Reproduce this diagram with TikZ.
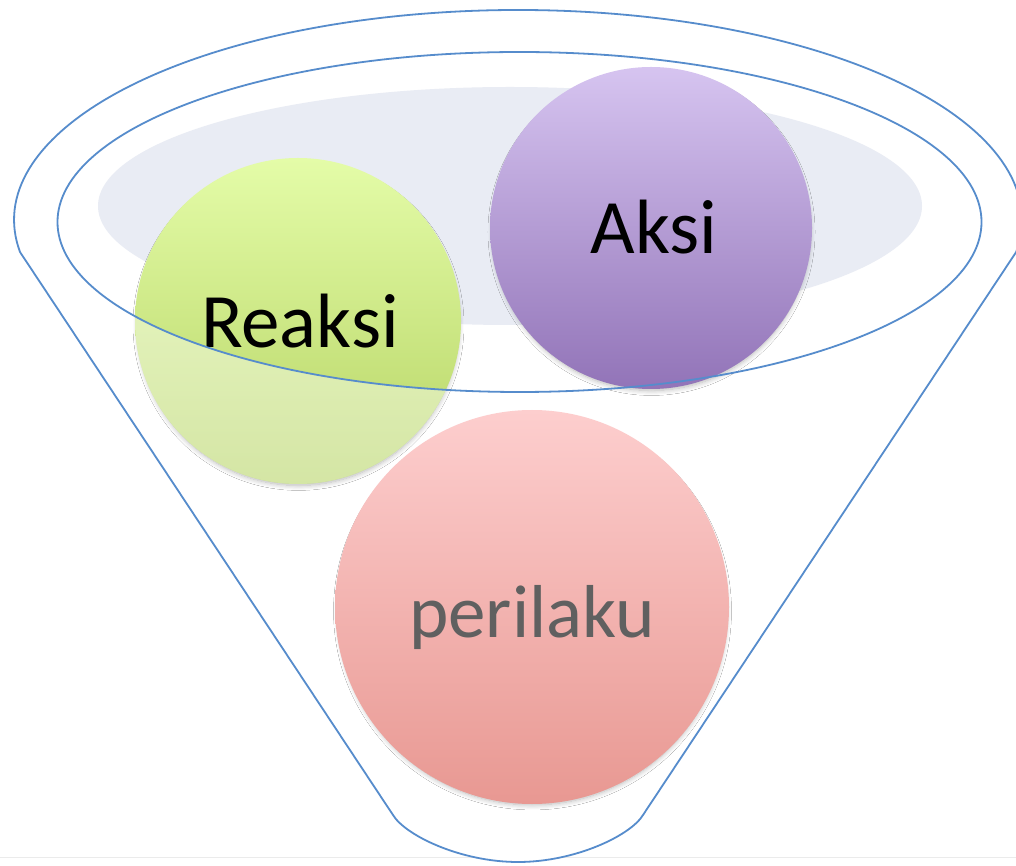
\documentclass[tikz,border=0pt]{standalone}
\usepackage{fontspec}
\newfontfamily\calibri{Carlito}
\usetikzlibrary{shadows.blur}
\definecolor{funblue}{RGB}{86,140,204}
\definecolor{bowlgray}{RGB}{233,236,244}
\definecolor{aksitop}{RGB}{214,196,240}
\definecolor{aksibot}{RGB}{146,116,184}
\definecolor{reaktop}{RGB}{228,252,168}
\definecolor{reakbot}{RGB}{182,212,100}
\definecolor{peritop}{RGB}{253,206,206}
\definecolor{peribot}{RGB}{232,152,146}
\definecolor{peritext}{RGB}{96,96,96}
\tikzset{
  funline/.style={draw=funblue, line width=1.8pt},
  ball/.style={circle, inner sep=0pt, draw=none,
    blur shadow={shadow xshift=0.5pt, shadow yshift=-4pt, shadow scale=0.985, shadow blur steps=10, shadow opacity=28, shadow blur radius=5pt}},
  bigtext/.style={font=\calibri\fontsize{77}{80}\selectfont, inner sep=0pt, anchor=base},
}
\begin{document}
\begin{tikzpicture}[x=1pt,y=1pt]
\useasboundingbox (0,0) rectangle (1016,865);
\fill[white] (0,0) rectangle (1016,865);
% faint slide border line
\draw[black!8, line width=0.8pt] (0,8) -- (1016,8);
% funnel body
\coordinate (fl) at (20,613);
\coordinate (fbl) at (393,50);
\coordinate (fbr) at (643,50);
\coordinate (fbot) at (518,3);
\path[fill=white] (fl) arc[start angle=188.77, end angle=-8.77, x radius=504, y radius=210]
  -- (fbr) .. controls (631,30) and (576,3) .. (fbot)
  .. controls (460,3) and (405,30) .. (fbl) -- cycle;
% gray bowl
\fill[bowlgray] (510,659) ellipse[x radius=412, y radius=119];
% circles
\node[ball, minimum size=322pt, top color=aksitop, bottom color=aksibot] (aksi) at (651,637) {};
\node[ball, minimum size=326pt, top color=reaktop, bottom color=reakbot] (reaksi) at (298,544) {};
\node[ball, minimum size=394pt, top color=peritop, bottom color=peribot] (peri) at (532,258) {};
% wash-out of the part of Reaksi outside the inner rim
\begin{scope}
  \clip (reaksi.center) circle[radius=163];
  \fill[white, fill opacity=0.42, even odd rule] (0,0) rectangle (1016,865)
    (519.5,643) ellipse[x radius=462, y radius=170];
\end{scope}
% labels
\node[bigtext] (aksit) at (654,611) {Aksi};
\node[bigtext] (reaksit) at (300,517) {Reaksi};
\node[bigtext, text=peritext, font=\calibri\fontsize{75}{78}\selectfont] (perit) at (532,228) {perilaku};
% inner rim
\draw[funline] (519.5,643) ellipse[x radius=462, y radius=170];
% outer funnel outline
\draw[funline, line join=round] (fl) arc[start angle=188.77, end angle=-8.77, x radius=504, y radius=210]
  -- (fbr) .. controls (631,30) and (576,3) .. (fbot)
  .. controls (460,3) and (405,30) .. (fbl) -- cycle;
\end{tikzpicture}
\end{document}
